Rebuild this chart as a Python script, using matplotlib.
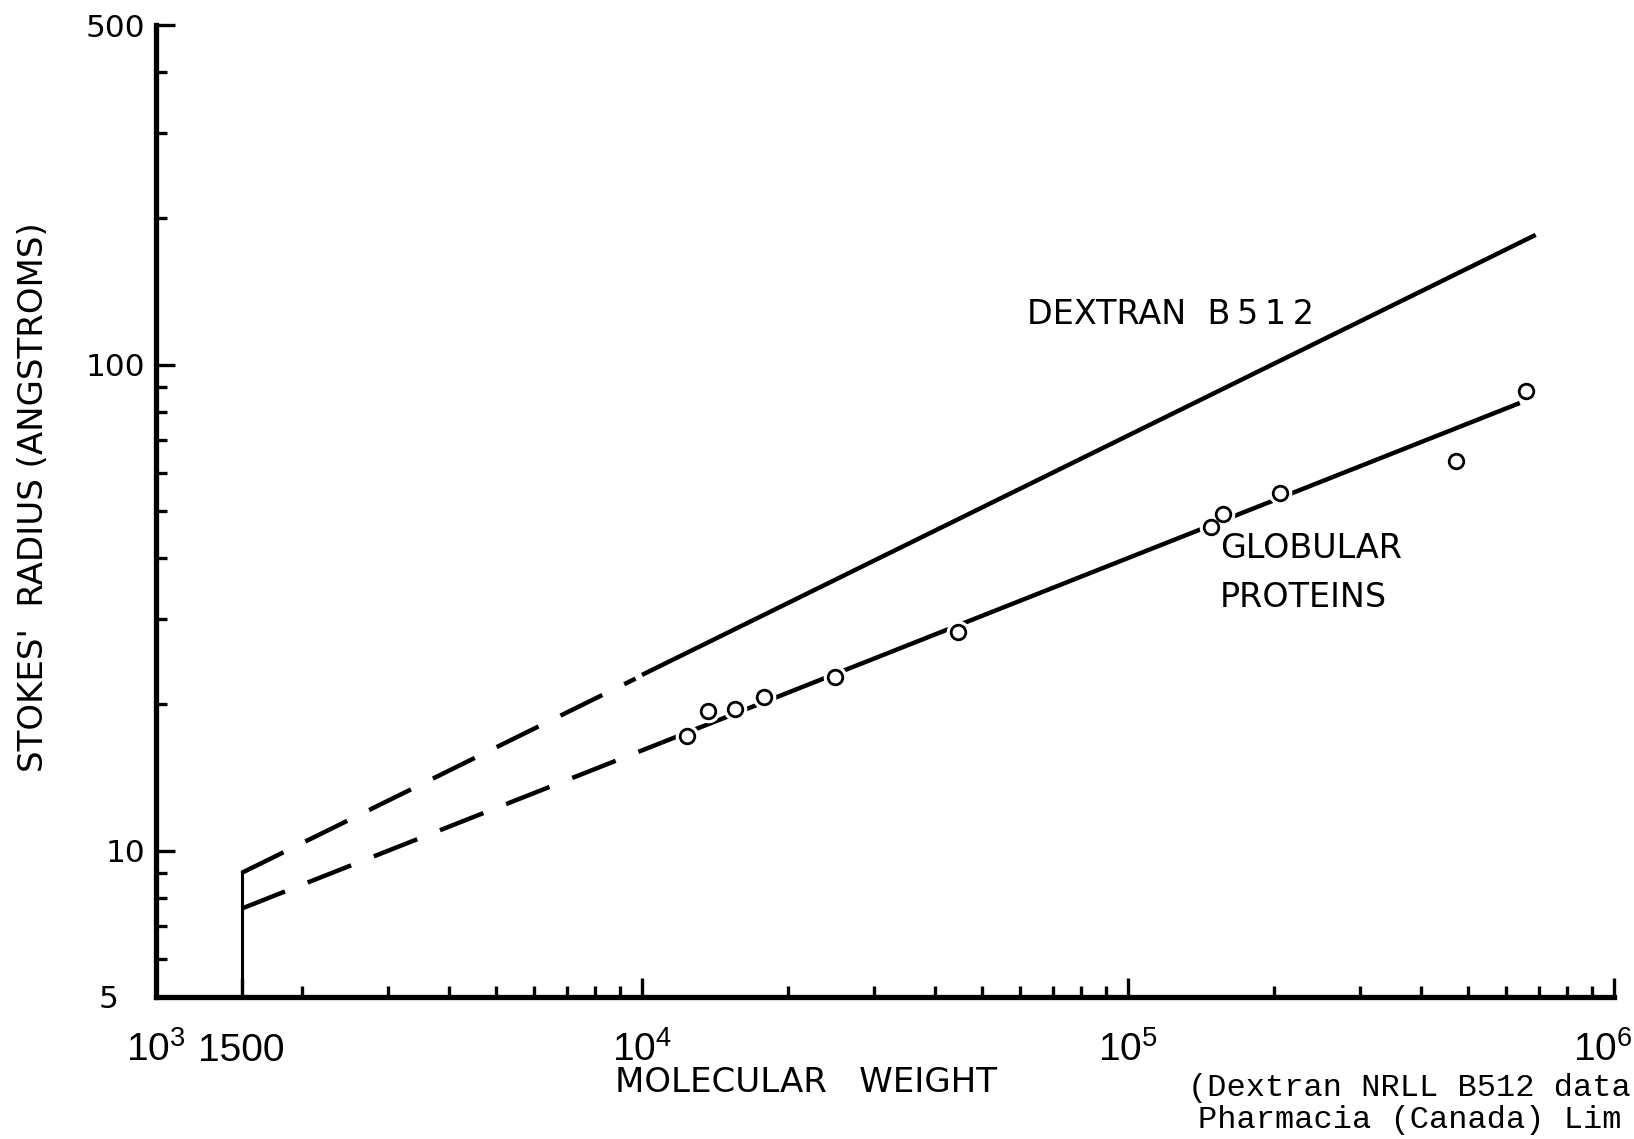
import numpy as np
import matplotlib
matplotlib.use('Agg')

import matplotlib.pyplot as plt
from matplotlib.ticker import LogLocator, NullFormatter
from matplotlib.transforms import ScaledTranslation

plt.rcParams['font.family'] = ['DejaVu Sans']

# Dextran NRLL B512 line (dashed below 10^4)
dextran_dash_mw = [1500, 9700]
dextran_dash_r = [9.0, 22.6]
dextran_mw = [10000, 690000]
dextran_r = [23.0, 185.0]

# globular protein fit (dashed below the first protein)
globular_dash_mw = [1500, 11000]
globular_dash_r = [7.6, 16.7]
globular_mw = [11000, 640000]
globular_r = [16.7, 83.4]

# exclusion limit at MW 1500
cutoff_mw = [1500, 1500]
cutoff_r = [5.0, 9.0]

# measured globular proteins
protein_mw = [12400, 13700, 15500, 17800, 25000, 44600,
              148000, 157000, 205000, 474000, 658000]
protein_r = [17.2, 19.4, 19.6, 20.7, 22.8, 28.2,
             46.3, 49.4, 54.4, 63.5, 88.4]

x_ticks = [1e3, 1500, 1e4, 1e5, 1e6]
x_ticklabels = [r'$\mathregular{10^{3}}$', '1500', r'$\mathregular{10^{4}}$',
                r'$\mathregular{10^{5}}$', r'$\mathregular{10^{6}}$']
y_ticks = [5, 10, 100, 500]
y_ticklabels = ['5', '10', '100', '500']

W, H = 1634, 1139
fig = plt.figure(figsize=(W / 100, H / 100), dpi=100)
ax = fig.add_axes([156 / W, 1 - 997 / H, (1614 - 156) / W, (997 - 25) / H])
ax.set_xscale('log')
ax.set_yscale('log')
ax.set_xlim(1e3, 1e6)
ax.set_ylim(5, 500)

lw = 3.2
dash = (0, (10.5, 5.5))
ax.plot(dextran_dash_mw, dextran_dash_r, color='k', lw=lw, ls=dash)
ax.plot(dextran_mw, dextran_r, color='k', lw=lw, solid_capstyle='butt')
ax.plot(globular_dash_mw, globular_dash_r, color='k', lw=lw, ls=dash)
ax.plot(globular_mw, globular_r, color='k', lw=lw, solid_capstyle='butt')
ax.plot(cutoff_mw, cutoff_r, color='k', lw=2.2)

# white halo so the line breaks around each circle
ax.plot(protein_mw, protein_r, ls='none', marker='o', ms=16, mfc='white',
        mec='white', zorder=3)
ax.plot(protein_mw, protein_r, ls='none', marker='o', ms=10.5, mfc='white',
        mec='k', mew=2.0, zorder=4)

ax.text(62000, 121, 'DEXTRAN  B\u20095\u20091\u20092', fontsize=24, va='baseline')
ax.text(154500, 40.0, 'GLOBULAR', fontsize=24, va='baseline')
ax.text(154500, 31.7, 'PROTEINS', fontsize=24, va='baseline')

for side in ['top', 'right']:
    ax.spines[side].set_visible(False)
for side in ['left', 'bottom']:
    ax.spines[side].set_linewidth(3.8)

ax.xaxis.set_minor_locator(LogLocator(base=10, subs=np.arange(2, 10)))
ax.yaxis.set_minor_locator(LogLocator(base=10, subs=np.arange(2, 10)))
ax.xaxis.set_minor_formatter(NullFormatter())
ax.yaxis.set_minor_formatter(NullFormatter())
ax.tick_params(which='both', direction='in', width=2.4, color='k')
ax.tick_params(which='major', length=14)
ax.tick_params(which='minor', length=8)
ax.tick_params(axis='y', which='major', pad=8)
ax.tick_params(axis='x', which='major', pad=46)

ax.set_xticks(x_ticks, x_ticklabels)
ax.set_yticks(y_ticks, y_ticklabels)
for lab in ax.get_xticklabels():
    lab.set_family(['Liberation Sans', 'DejaVu Sans'])
    lab.set_fontsize(28)
    lab.set_va('baseline')
for lab in ax.get_yticklabels():
    lab.set_fontsize(22.5)

# keep the 10^6 label inside the right edge
xlabs = ax.get_xticklabels()
xlabs[-1].set_transform(xlabs[-1].get_transform()
                        + ScaledTranslation(-0.11, 0, fig.dpi_scale_trans))
ylabs = ax.get_yticklabels()
ylabs[0].set_transform(ylabs[0].get_transform()
                       + ScaledTranslation(-0.26, 0, fig.dpi_scale_trans))

fig.text(34 / W, 1 - 497 / H, "STOKES'  RADIUS (ANGSTROMS)", rotation=90,
         fontsize=24.5, ha='center', va='center')
fig.text(806 / W, 1 - 1082 / H, 'MOLECULAR   WEIGHT', fontsize=24.5,
         ha='center', va='center')

mono = ['Liberation Mono', 'DejaVu Sans Mono']
fig.text(1188 / W, 1 - 1088 / H, '(Dextran NRLL B512 data', family=mono,
         fontsize=23, ha='left', va='center')
fig.text(1198 / W, 1 - 1120 / H, 'Pharmacia (Canada) Lim', family=mono,
         fontsize=23, ha='left', va='center')

fig.savefig('out.png', dpi=100, facecolor='white')
